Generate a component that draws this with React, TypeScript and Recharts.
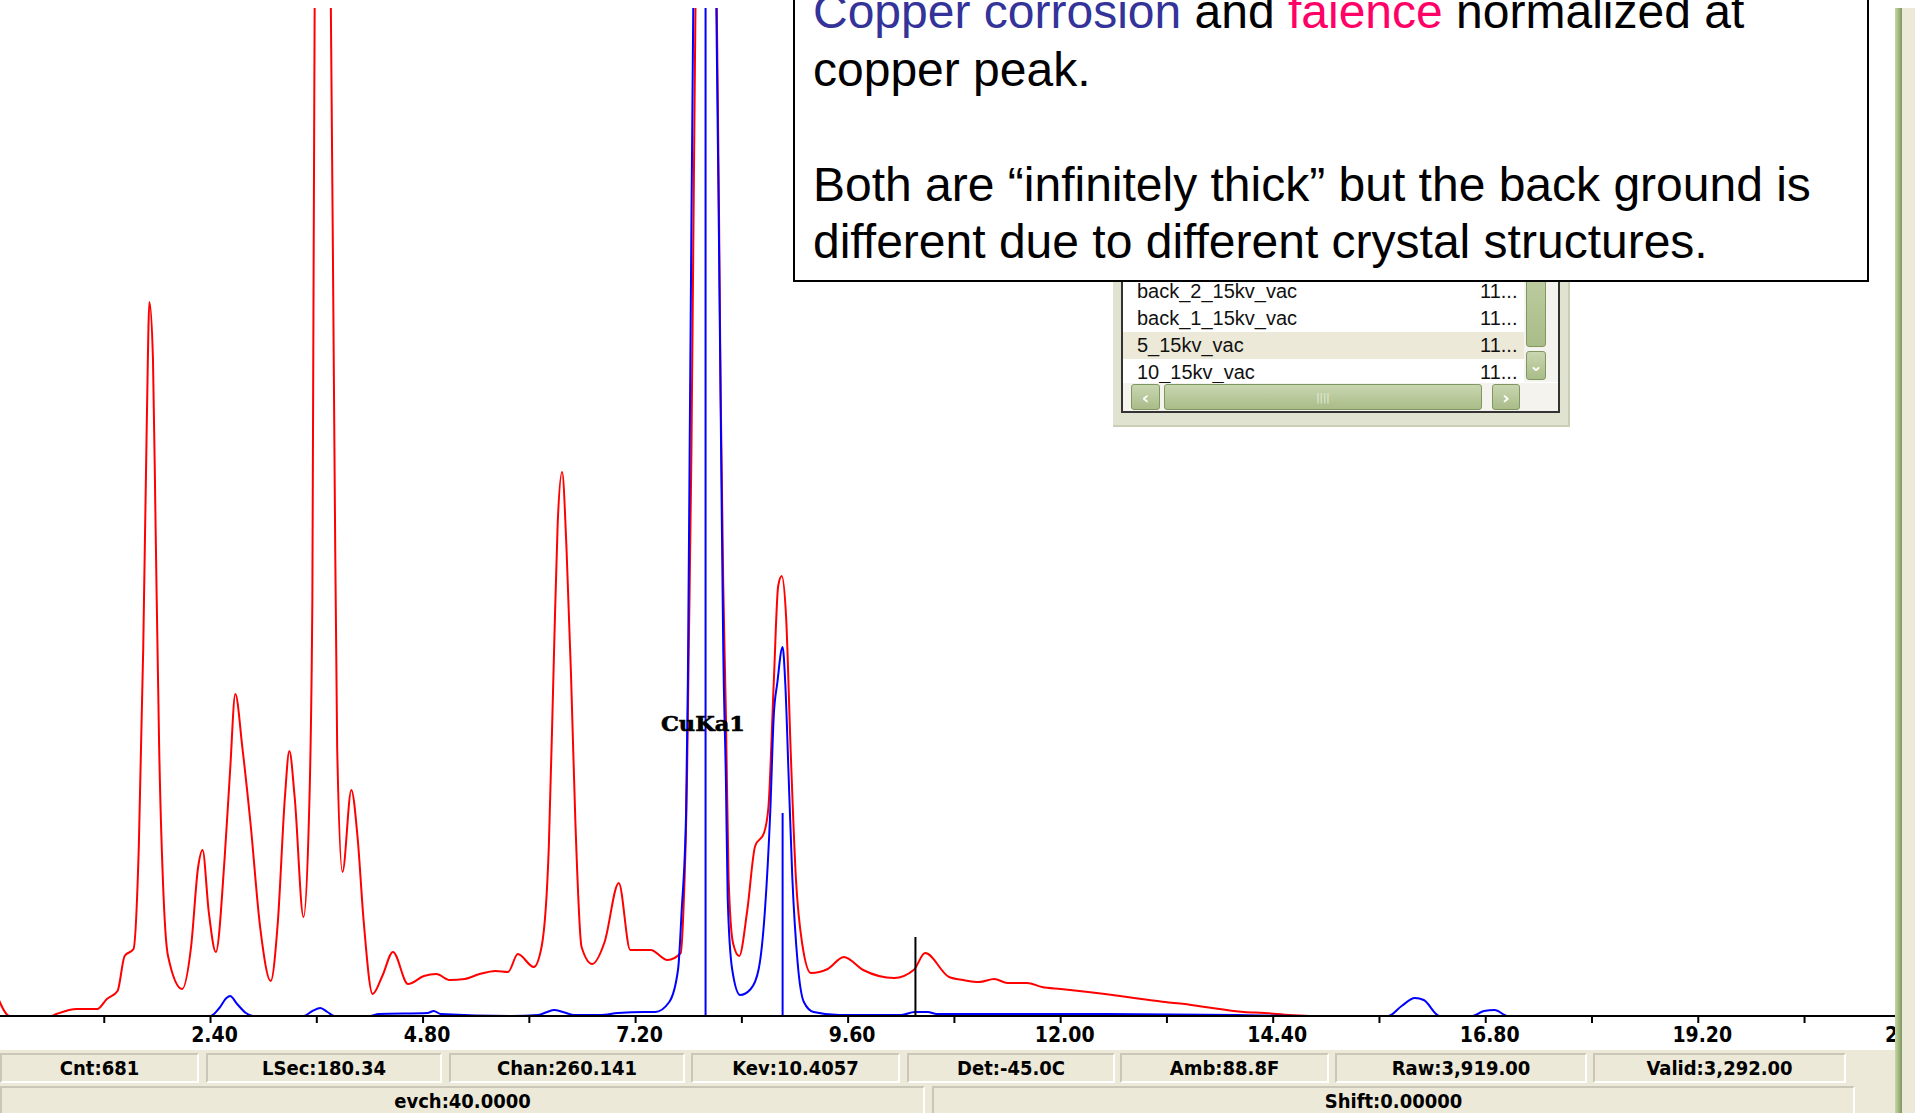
import React from "react";
import { LineChart, Line, XAxis, YAxis, ReferenceLine, ReferenceDot } from "recharts";

// faience spectrum (red) - keV / counts (1 count = 1px above axis)
const faienceKev = [
  0.0, 0.13, 0.6, 0.66, 0.89, 1.12, 1.23, 1.35, 1.43, 1.53, 1.59, 1.64, 1.68, 1.71, 1.75, 1.78, 1.82, 1.87, 1.92,
  2.08, 2.18, 2.26, 2.31, 2.38, 2.46, 2.56, 2.62, 2.68, 2.76, 2.85, 2.96, 3.08, 3.16, 3.24, 3.29, 3.35, 3.45,
  3.51, 3.55, 3.58, 3.67, 3.75, 3.8, 3.83, 3.89, 3.99, 4.06, 4.13, 4.23, 4.34, 4.46, 4.63, 4.81, 4.95, 5.1,
  5.27, 5.44, 5.62, 5.76, 5.87, 6.05, 6.14, 6.22, 6.28, 6.32, 6.37, 6.42, 6.47, 6.52, 6.59, 6.71, 6.85, 7.01,
  7.14, 7.37, 7.56, 7.71, 7.74, 7.78, 7.8, 7.83, 7.85, 7.87, 7.95, 8.05, 8.12, 8.14, 8.16, 8.19, 8.22, 8.25,
  8.3, 8.37, 8.46, 8.55, 8.65, 8.7, 8.76, 8.81, 8.85, 8.9, 8.95, 9.01, 9.08, 9.18, 9.37, 9.55, 9.77, 10.12,
  10.34, 10.47, 10.74, 10.9, 11.08, 11.25, 11.4, 11.62, 11.79, 12.0, 12.31, 12.5, 12.75, 13.0, 13.18, 13.4,
  13.63, 14.07, 14.3, 14.59, 14.85, 17.2,
];
const faienceCounts = [
  18, 0, 0, 2, 7, 7, 17, 25, 60, 67, 169, 368, 592, 714, 657, 487, 268, 119, 60,
  27, 69, 149, 166, 104, 64, 159, 244, 322, 268, 194, 89, 35, 94, 219, 265, 219, 99,
  194, 418, 1100, 1400, 1100, 557, 269, 144, 226, 179, 94, 22, 40, 64, 32, 40, 42, 36,
  37, 42, 45, 44, 62, 49, 70, 169, 368, 492, 544, 467, 343, 194, 69, 52, 74, 133,
  66, 66, 56, 63, 105, 235, 365, 561, 756, 951, 1500, 1500, 983, 821, 626, 430, 300, 138,
  73, 60, 105, 170, 183, 209, 333, 430, 440, 398, 268, 138, 73, 43, 47, 59, 46, 38,
  46, 63, 39, 36, 34, 37, 33, 33, 29, 27, 24, 22, 19, 16, 14, 12,
  9, 4, 3, 1, 0, 0,
];

// copper corrosion spectrum (blue)
const corrosionKev = [
  0.6, 2.4, 2.5, 2.58, 2.62, 2.7, 2.8, 2.88, 3.45, 3.55, 3.64, 3.72, 3.8, 4.2, 4.3, 4.85, 4.92, 5.0, 5.8,
  6.1, 6.2, 6.28, 6.38, 6.5, 6.8, 7.0, 7.3, 7.42, 7.58, 7.68, 7.72, 7.77, 7.79, 7.81, 7.83, 7.86, 7.99,
  8.1, 8.14, 8.17, 8.19, 8.22, 8.24, 8.29, 8.38, 8.5, 8.59, 8.66, 8.72, 8.76, 8.8, 8.86, 8.89, 8.93, 8.97,
  9.03, 9.1, 9.21, 9.5, 10.2, 10.35, 10.5, 10.6, 12.5, 14.0, 14.7, 15.7, 15.85, 16.0, 16.1, 16.28, 16.65,
  16.78, 16.9, 17.05, 17.2,
];
const corrosionCounts = [
  0, 0, 8, 18, 20, 12, 3, 0, 0, 5, 8, 4, 0, 0, 2, 3, 5, 2, 0,
  1, 4, 6, 4, 1, 1, 3, 4, 4, 14, 47, 105, 203, 333, 561, 788, 1100, 1700,
  1100, 788, 528, 365, 235, 118, 47, 21, 27, 47, 105, 203, 300, 333, 369, 333, 235, 138,
  53, 14, 4, 1, 1, 4, 4, 2, 2, 1, 0, 0, 10, 18, 16, 0, 0,
  5, 6, 0, 0,
];

const tickKev = [1.2, 2.4, 3.6, 4.8, 6.0, 7.2, 8.4, 9.6, 10.8, 12.0, 13.2, 14.4, 15.6, 16.8, 18.0, 19.2, 20.4, 21.6];
const labelKev = [2.4, 4.8, 7.2, 9.6, 12.0, 14.4, 16.8, 19.2, 21.6];

// element marker lines and the cursor
const markerKev = [7.99, 8.86, 10.36];
const markerTop = [1008, 203, 79];
const markerColor = ["#0000ff", "#0000ff", "#000000"];

const statusTop = ["Cnt:681", "LSec:180.34", "Chan:260.141", "Kev:10.4057", "Det:-45.0C", "Amb:88.8F", "Raw:3,919.00", "Valid:3,292.00"];
const statusTopX = [[0, 199], [206, 442], [449, 685], [691, 900], [907, 1115], [1120, 1329], [1335, 1587], [1593, 1846]];
const statusBottom = ["evch:40.0000", "Shift:0.00000"];
const statusBottomX = [[0, 925], [932, 1855]];

const listRows = ["back_2_15kv_vac", "back_1_15kv_vac", "5_15kv_vac", "10_15kv_vac"];

const faience = faienceKev.map((k, i) => ({ kev: k, counts: faienceCounts[i] }));
const corrosion = corrosionKev.map((k, i) => ({ kev: k, counts: corrosionCounts[i] }));

const condensed = "'DejaVu Sans Condensed', 'DejaVu Sans', sans-serif";

function KevTick(props: any) {
  const { x, y, payload } = props;
  const v = payload.value;
  if (!labelKev.some((k) => Math.abs(k - v) < 1e-6)) return <g />;
  return (
    <text x={x} y={y} dx={4} dy={17} textAnchor="middle" fontFamily={condensed} fontStretch="condensed" fontWeight="bold" fontSize={21} fill="#000">
      {v.toFixed(2)}
    </text>
  );
}

const panel: React.CSSProperties = {
  position: "absolute",
  boxSizing: "border-box",
  borderTop: "2px solid #cbc7b8",
  borderLeft: "2px solid #cbc7b8",
  borderBottom: "2px solid #ffffff",
  borderRight: "2px solid #ffffff",
  display: "flex",
  alignItems: "center",
  justifyContent: "center",
  fontFamily: condensed,
  fontStretch: "condensed",
  fontWeight: "bold",
  fontSize: 20,
  color: "#000",
};

const scrollGreen: React.CSSProperties = {
  position: "absolute",
  boxSizing: "border-box",
  background: "linear-gradient(#c9d6b0, #a9bc88)",
  border: "1px solid #7f9862",
  borderRadius: 3,
};

export default function App() {
  return (
    <div style={{ position: "absolute", left: 0, top: 0, width: 1915, height: 1113, background: "#fff", overflow: "hidden" }}>
      {/* spectrum */}
      <div style={{ position: "absolute", left: -2, top: 0 }}>
        <LineChart width={1919} height={1052} margin={{ top: 8, right: 0, bottom: 0, left: 0 }}>
          <XAxis
            type="number"
            dataKey="kev"
            domain={[0, 21.67]}
            allowDataOverflow
            ticks={tickKev}
            interval={0}
            tickSize={7}
            height={36}
            axisLine={{ stroke: "#000", strokeWidth: 2 }}
            tickLine={{ stroke: "#000", strokeWidth: 2 }}
            tick={(p: any) => <KevTick {...p} />}
          />
          <YAxis type="number" dataKey="counts" domain={[0, 1008]} allowDataOverflow hide />
          <Line data={faience} dataKey="counts" type="monotone" stroke="#ff0000" strokeWidth={2} dot={false} isAnimationActive={false} />
          <Line data={corrosion} dataKey="counts" type="monotone" stroke="#0000ff" strokeWidth={2} dot={false} isAnimationActive={false} />
          {markerKev.map((k, i) => (
            <ReferenceLine
              key={k}
              segment={[{ x: k, y: 0 }, { x: k, y: markerTop[i] }]}
              stroke={markerColor[i]}
              strokeWidth={2}
            />
          ))}
          <ReferenceDot
            x={7.96}
            y={292}
            r={0}
            shape={(p: any) => (
              <text x={p.cx} y={p.cy} textAnchor="middle" dominantBaseline="central" fontFamily="'DejaVu Serif', serif" fontWeight="bold" fontSize={20} textLength={84} lengthAdjust="spacingAndGlyphs" fill="#000" stroke="#000" strokeWidth={0.6}>
                CuKa1
              </text>
            )}
          />
        </LineChart>
      </div>

      {/* file list window (behind the note) */}
      <div style={{ position: "absolute", left: 1113, top: 230, width: 457, height: 197, background: "#dfe3cf", borderRight: "2px solid #c9cfb5", borderBottom: "2px solid #c9cfb5", boxSizing: "border-box" }} />
      <div style={{ position: "absolute", left: 1121, top: 230, width: 439, height: 183, background: "#fff", border: "2px solid #333", boxSizing: "border-box", overflow: "hidden" }}>
        {listRows.map((r, i) => (
          <div
            key={r}
            style={{
              position: "absolute",
              left: 0,
              top: 46 + i * 27,
              width: 401,
              height: 27,
              background: i === 2 ? "#ece9d8" : "transparent",
              fontFamily: "'Liberation Sans', Arial, sans-serif",
              fontSize: 20,
              lineHeight: "27px",
              color: "#111",
            }}
          >
            <span style={{ position: "absolute", left: 14 }}>{r}</span>
            <span style={{ position: "absolute", left: 357 }}>11...</span>
          </div>
        ))}
        {/* vertical scrollbar */}
        <div style={{ position: "absolute", left: 401, top: 0, width: 34, height: 150, background: "#f4f3ee" }} />
        <div style={{ ...scrollGreen, left: 403, top: 0, width: 20, height: 115 }} />
        <div style={{ ...scrollGreen, left: 403, top: 119, width: 20, height: 29, display: "flex", alignItems: "center", justifyContent: "center", color: "#fff", fontSize: 16, fontWeight: "bold", fontFamily: "'DejaVu Sans', sans-serif" }}>⌄</div>
        {/* horizontal scrollbar */}
        <div style={{ position: "absolute", left: 0, top: 151, width: 435, height: 30, background: "#f4f3ee" }} />
        <div style={{ ...scrollGreen, left: 8, top: 152, width: 29, height: 26, display: "flex", alignItems: "center", justifyContent: "center", color: "#fff", fontSize: 18, fontWeight: "bold", fontFamily: "'DejaVu Sans', sans-serif" }}>‹</div>
        <div style={{ ...scrollGreen, left: 41, top: 152, width: 318, height: 26, display: "flex", alignItems: "center", justifyContent: "center", color: "#e8eedd", fontSize: 10, fontFamily: "'DejaVu Sans', sans-serif" }}>||||</div>
        <div style={{ ...scrollGreen, left: 369, top: 152, width: 28, height: 26, display: "flex", alignItems: "center", justifyContent: "center", color: "#fff", fontSize: 18, fontWeight: "bold", fontFamily: "'DejaVu Sans', sans-serif" }}>›</div>
      </div>

      {/* note */}
      <div style={{ position: "absolute", left: 793, top: -30, width: 1076, height: 312, boxSizing: "border-box", border: "2px solid #000", background: "#fff" }}>
        <div style={{ position: "absolute", left: 18, top: 11, fontFamily: "'Liberation Sans', Arial, sans-serif", fontSize: 48, lineHeight: "57.5px", color: "#000", whiteSpace: "nowrap" }}>
          <div>
            <span style={{ color: "#333399" }}>Copper corrosion</span> and <span style={{ color: "#ff0066" }}>faience</span> normalized at
          </div>
          <div>copper peak.</div>
          <div>&nbsp;</div>
          <div>Both are “infinitely thick” but the back ground is</div>
          <div>different due to different crystal structures.</div>
        </div>
      </div>

      {/* window edge on the right */}
      <div style={{ position: "absolute", left: 1895, top: 8, width: 20, height: 1105, background: "#ece9d8" }} />
      <div style={{ position: "absolute", left: 1895, top: 8, width: 7, height: 1105, background: "linear-gradient(90deg, #c8d6a8, #9cb27a 60%, #7c9460)" }} />

      {/* status bar */}
      <div style={{ position: "absolute", left: 0, top: 1050, width: 1895, height: 63, background: "#ece9d8" }}>
        {statusTop.map((s, i) => (
          <div key={s} style={{ ...panel, left: statusTopX[i][0], top: 3, width: statusTopX[i][1] - statusTopX[i][0], height: 30 }}>
            {s}
          </div>
        ))}
        {statusBottom.map((s, i) => (
          <div key={s} style={{ ...panel, left: statusBottomX[i][0], top: 36, width: statusBottomX[i][1] - statusBottomX[i][0], height: 30 }}>
            {s}
          </div>
        ))}
      </div>
    </div>
  );
}
